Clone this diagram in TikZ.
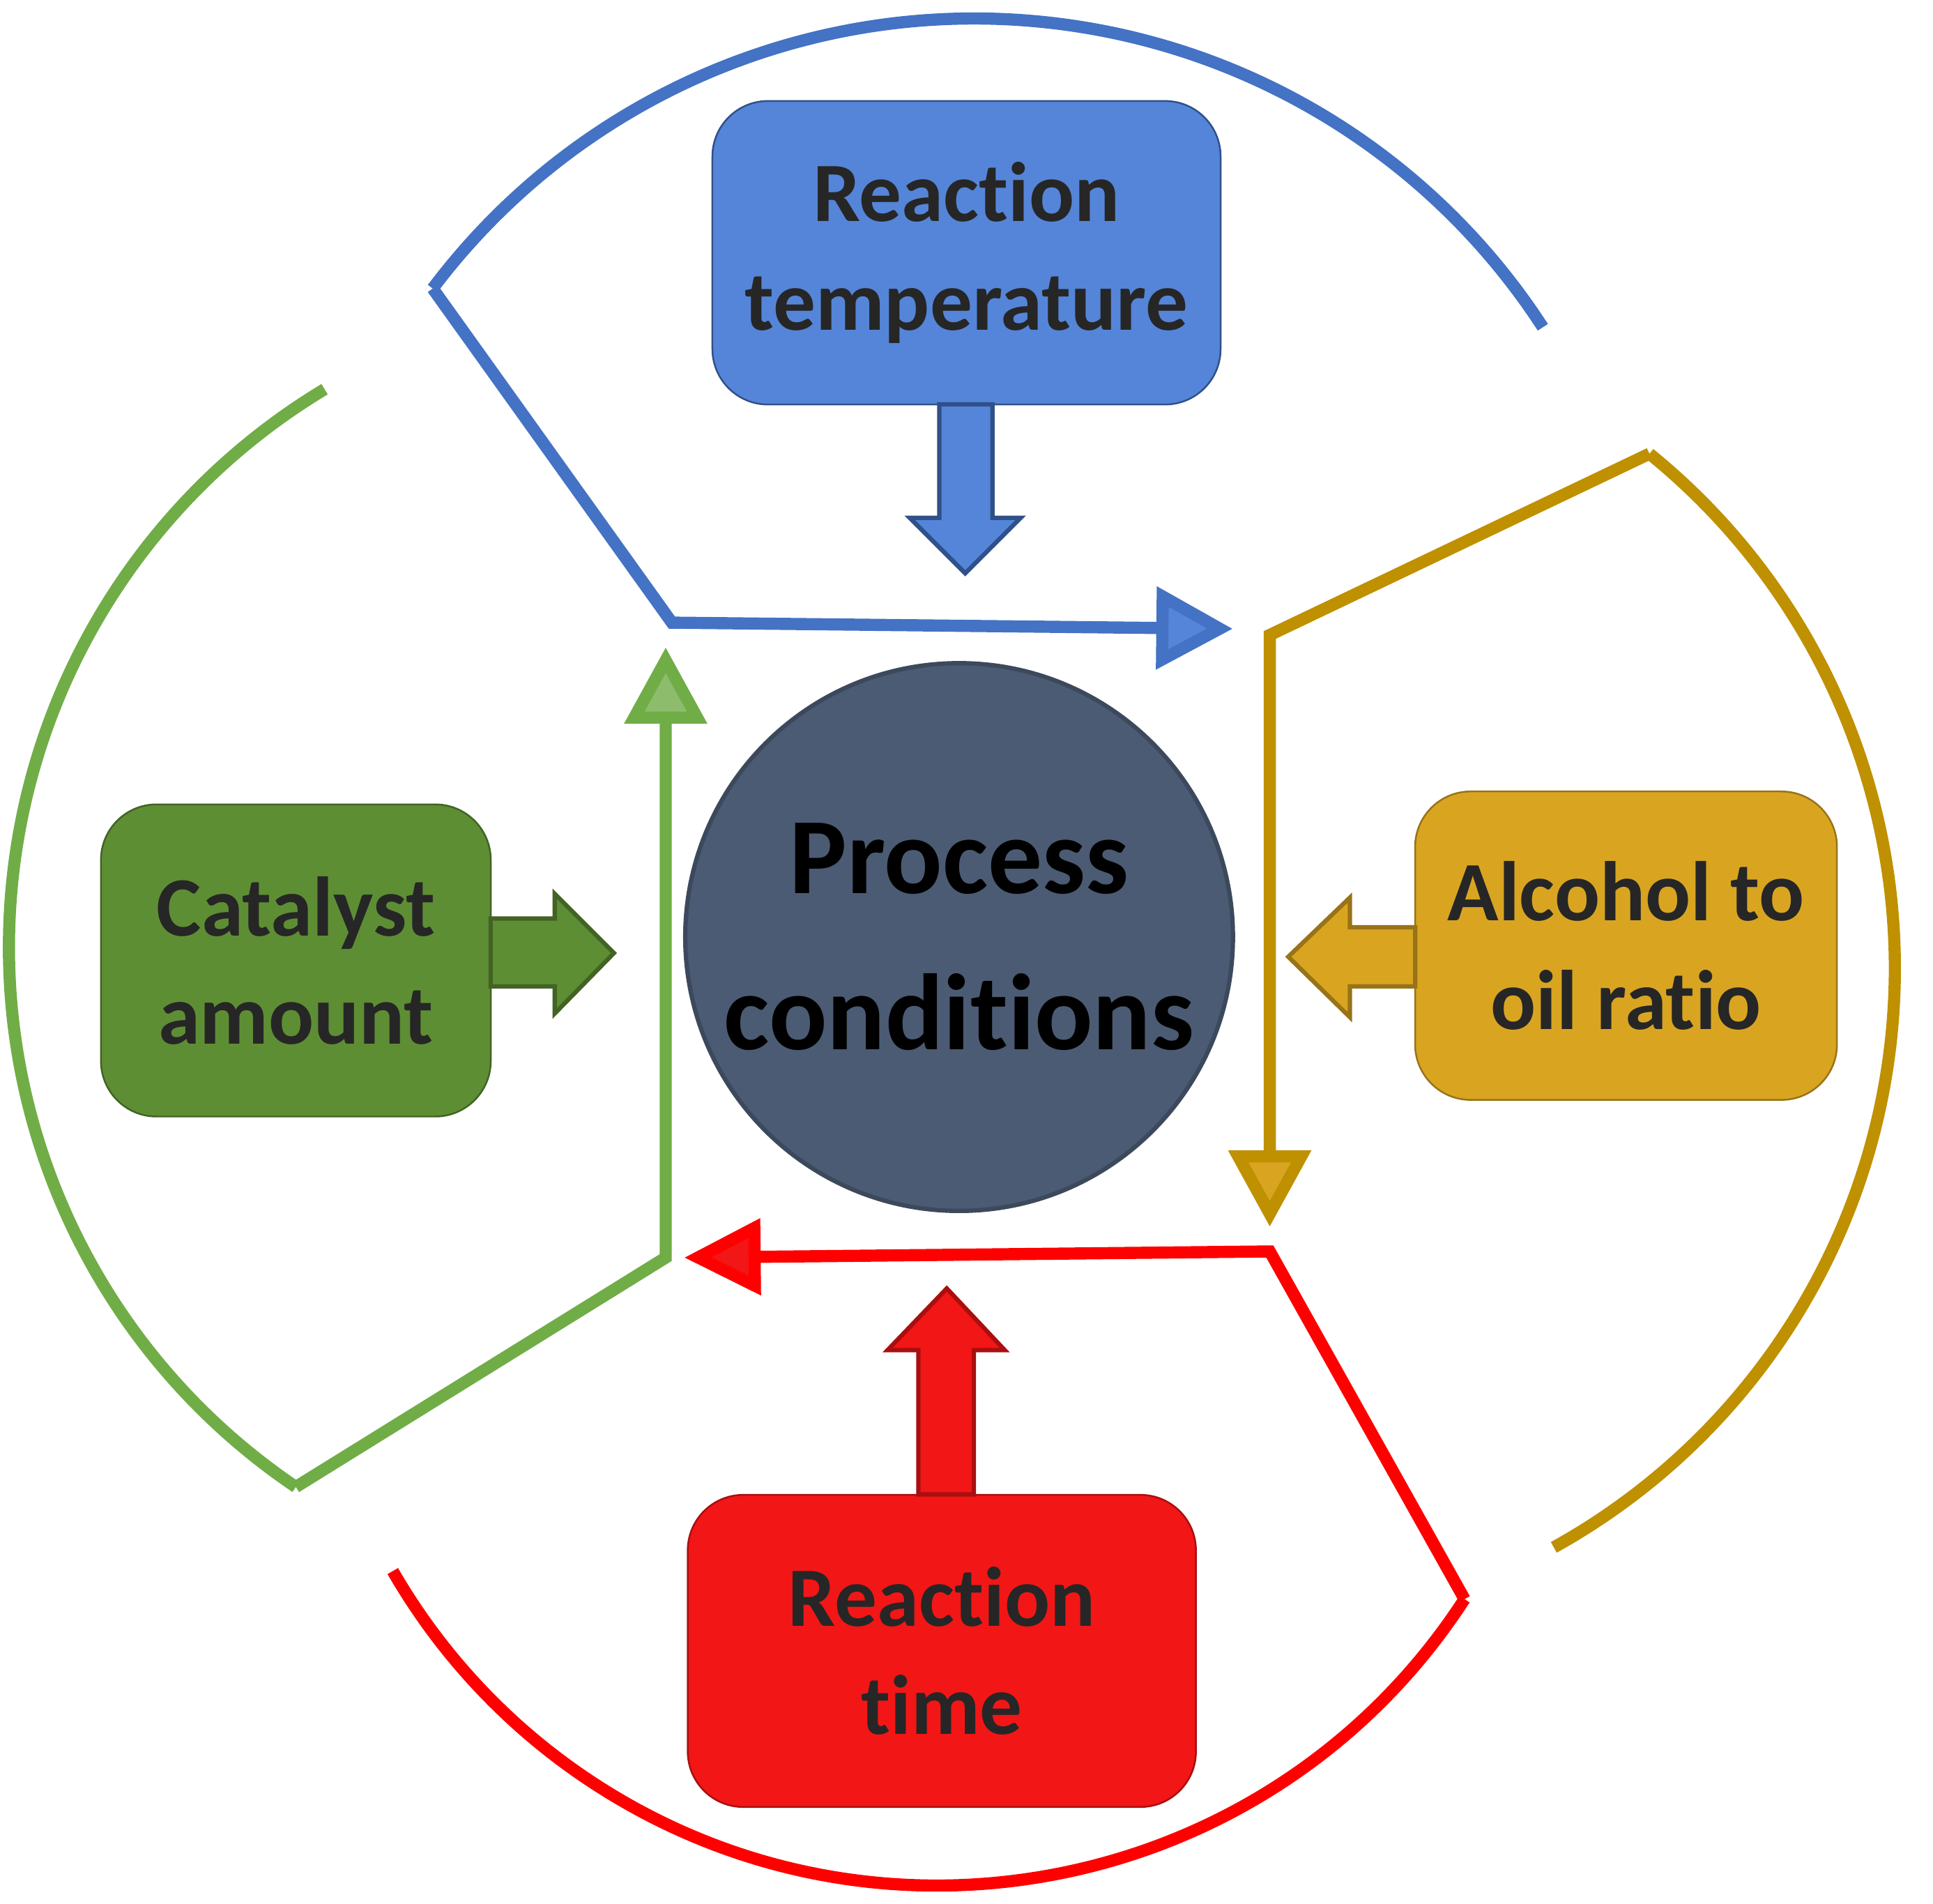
\documentclass[tikz,border=0pt]{standalone}
\usepackage{fontspec}
\setmainfont[Ligatures={NoCommon,NoDiscretionary,NoRare}]{Carlito}
\usetikzlibrary{arrows.meta}
\definecolor{cblue}{HTML}{4472C4}
\definecolor{cgreen}{HTML}{70AD47}
\definecolor{cgold}{HTML}{BF9000}
\definecolor{cred}{HTML}{FF0000}
\definecolor{bblue}{HTML}{5585D8}
\definecolor{bgreen}{HTML}{5E8E34}
\definecolor{bgold}{HTML}{D9A521}
\definecolor{bred}{HTML}{F21616}
\definecolor{slate}{HTML}{4B5B73}
\tikzset{
  ring/.style={line width=2.8pt},
  box/.style={rounded corners=0.45cm, minimum width=#1, align=center, font=\bfseries\fontsize{19.5}{25}\selectfont, text=black!85},
  barrow/.style={line width=1pt, line join=miter}
}
\begin{document}
\begin{tikzpicture}[x=0.01cm,y=0.01cm]
\useasboundingbox (0,0) rectangle (1568,1544);
% arcs and polylines
\coordinate (b0) at (351,1310); \coordinate (b1) at (545,1039); \coordinate (b2) at (1000,1034);
\coordinate (g0) at (240,338); \coordinate (g1) at (540,524); \coordinate (g2) at (540,1019);
\coordinate (o0) at (1338,1176); \coordinate (o1) at (1030,1029); \coordinate (o2) at (1030,549);
\coordinate (r0) at (1188,247); \coordinate (r1) at (1030,529); \coordinate (r2) at (555,524);
\draw[ring,cblue] (b0) arc[start angle=143,end angle=33,radius=550];
\draw[ring,cblue,line join=miter,-{Triangle[width=0.65cm,length=0.62cm,open,fill=bblue]}] (b0) -- (b1) -- (b2);
\draw[ring,cgreen] (g0) arc[start angle=236,end angle=121,radius=528];
\draw[ring,cgreen,line join=miter,-{Triangle[width=0.65cm,length=0.62cm,open,fill=cgreen!80]}] (g0) -- (g1) -- (g2);
\draw[ring,cgold] (o0) arc[start angle=51,end angle=-61,radius=537];
\draw[ring,cgold,line join=miter,-{Triangle[width=0.65cm,length=0.62cm,open,fill=bgold]}] (o0) -- (o1) -- (o2);
\draw[ring,cred] (r0) arc[start angle=-33,end angle=-150,radius=510];
\draw[ring,cred,line join=miter,-{Triangle[width=0.6cm,length=0.62cm,open,fill=bred]}] (r0) -- (r1) -- (r2);
% centre
\node[circle, inner sep=0pt, minimum size=4.44cm, fill=slate, draw=slate!80!black, line width=1pt, align=center,
  font=\bfseries\fontsize{25}{36}\selectfont, text=black] (pc) at (778,784) {Process\\conditions};
% boxes
\node[box=4.12cm, minimum height=2.46cm, fill=bblue, draw=cblue!70!black] (rt) at (784,1339) {Reaction\\temperature};
\node[box=3.16cm, minimum height=2.53cm, fill=bgreen, draw=bgreen!70!black] (ca) at (240,765) {Catalyst\\amount};
\node[box=3.42cm, minimum height=2.50cm, fill=bgold, draw=bgold!70!black] (ao) at (1319,777) {Alcohol to\\oil ratio};
\node[box=4.12cm, minimum height=2.53cm, fill=bred, draw=bred!70!black] (rti) at (764,205) {Reaction\\time};
% block arrows
\draw[barrow, fill=bblue, draw=cblue!70!black] (762,1216) -- (762,1124) -- (738,1124) -- (783,1079) -- (828,1124) -- (805,1124) -- (805,1216) -- cycle;
\draw[barrow, fill=bgreen, draw=bgreen!70!black] (398,744) -- (450,744) -- (450,722) -- (498,771) -- (450,819) -- (450,799) -- (398,799) -- cycle;
\draw[barrow, fill=bgold, draw=bgold!70!black] (1148,744) -- (1095,744) -- (1095,719) -- (1045,768) -- (1095,816) -- (1095,792) -- (1148,792) -- cycle;
\draw[barrow, fill=bred, draw=bred!70!black] (745,332) -- (745,449) -- (720,449) -- (768,499) -- (815,449) -- (790,449) -- (790,332) -- cycle;
\end{tikzpicture}
\end{document}
